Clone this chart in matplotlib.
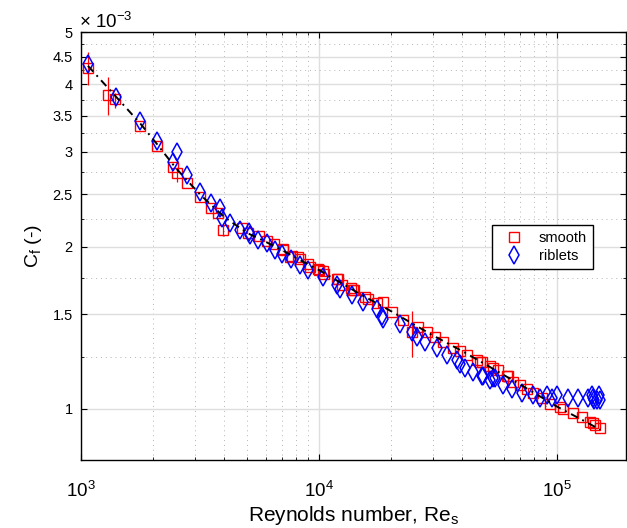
import numpy as np
import matplotlib
matplotlib.use("Agg")
import matplotlib.pyplot as plt
from matplotlib.ticker import FixedLocator, FuncFormatter, LogLocator, NullFormatter

plt.rcParams['font.family'] = ['Liberation Sans', 'DejaVu Sans']
plt.rcParams['mathtext.fontset'] = 'custom'
plt.rcParams['mathtext.rm'] = 'Liberation Sans'
plt.rcParams['mathtext.it'] = 'Liberation Sans:italic'

# smooth wall (Cf in units of 1e-3)
re_smooth = [1070, 1298, 1390, 1770, 2086, 2436, 2532, 2789, 3162, 3517, 3764, 3963,
             4735, 5050, 5610, 6046, 6471, 7032, 7080, 7556, 7675, 8185, 8318, 9016,
             9162, 9930, 10000, 10420, 10500, 11930, 12040, 12440, 13580, 13930, 14030,
             15610, 16100, 17530, 18570, 20180, 22540, 24490, 26120, 28350, 30700, 33260,
             36630, 39110, 41780, 46030, 47450, 48330, 52270, 53950, 56590, 61590, 62370,
             65340, 69950, 74660, 79250, 86490, 93480, 102900, 106000, 116400, 127000,
             137700, 141600, 144500, 151700]
cf_smooth = [4.29, 3.83, 3.76, 3.35, 3.07, 2.81, 2.74, 2.63, 2.47, 2.36, 2.31, 2.15,
             2.17, 2.12, 2.09, 2.05, 2.02, 1.98, 1.97, 1.91, 1.92, 1.91, 1.90, 1.86,
             1.83, 1.82, 1.81, 1.80, 1.78, 1.74, 1.74, 1.70, 1.68, 1.66, 1.66,
             1.61, 1.60, 1.57, 1.58, 1.51, 1.46, 1.39, 1.42, 1.39, 1.36, 1.33,
             1.30, 1.28, 1.26, 1.23, 1.22, 1.22, 1.20, 1.19, 1.18, 1.15, 1.15,
             1.12, 1.11, 1.09, 1.07, 1.05, 1.02, 1.01, 1.00, 0.982, 0.965,
             0.947, 0.941, 0.934, 0.921]

# visible error bars on smooth data
re_err = [1070, 1298, 1390, 2532, 3963, 24490]
cf_err = [4.29, 3.83, 3.76, 2.74, 2.15, 1.39]
cf_err_lo = [3.99, 3.51, 3.62, 2.64, 2.09, 1.25]
cf_err_hi = [4.59, 4.13, 3.86, 2.80, 2.20, 1.52]

# riblets
re_riblets = [1070, 1399, 1770, 2080, 2443, 2524, 2789, 3162, 3517, 3837, 3899, 4227,
              4656, 5094, 5129, 5558, 6046, 6536, 6960, 7650, 8318, 9016, 10420, 11860,
              12250, 13710, 15310, 17530, 18480, 18570, 21880, 24490, 25740, 27880, 31330,
              34400, 37900, 39110, 41050, 44460, 48330, 48980, 52270, 53950, 54850, 59420,
              64530, 71090, 79250, 84850, 90510, 95350, 99700, 111200, 122500, 135400,
              140000, 141600, 143000, 146800, 150000, 151700]
cf_riblets = [4.37, 3.79, 3.42, 3.14, 2.87, 3.00, 2.72, 2.53, 2.41, 2.36, 2.26, 2.21,
              2.15, 2.13, 2.10, 2.06, 2.03, 1.97, 1.94, 1.90, 1.85, 1.81, 1.76, 1.70,
              1.67, 1.63, 1.58, 1.53, 1.49, 1.47, 1.44, 1.39, 1.36, 1.33, 1.30,
              1.26, 1.23, 1.21, 1.19, 1.17, 1.15, 1.15, 1.13, 1.14, 1.14, 1.11,
              1.09, 1.07, 1.06, 1.05, 1.06, 1.05, 1.06, 1.05, 1.05, 1.05,
              1.06, 1.05, 1.04, 1.04, 1.06, 1.04]

# fit line
re_fit = [1070, 1400, 1770, 2086, 2500, 3162, 4000, 5000, 6000, 7000, 8300, 10000,
          15000, 20000, 30000, 40000, 50000, 70000, 100000, 130000, 152000]
cf_fit = [4.33, 3.80, 3.39, 3.10, 2.80, 2.50, 2.27, 2.12, 2.04, 1.97, 1.89, 1.81,
          1.63, 1.52, 1.37, 1.28, 1.21, 1.11, 1.01, 0.95, 0.915]

s = 1e-3
fig = plt.figure(figsize=(6.27, 5.28), dpi=100)
ax = fig.add_axes([81/627, 68/528, 545/627, 428/528])
ax.set_xscale('log')
ax.set_yscale('log')

# grid
yt = [1, 1.5, 2, 2.5, 3, 3.5, 4, 4.5, 5]
ymin = [1.25, 1.75, 2.25, 2.75, 3.25, 3.75, 4.25, 4.75]
ax.yaxis.set_major_locator(FixedLocator([v*s for v in yt]))
ax.yaxis.set_minor_locator(FixedLocator([v*s for v in ymin]))
ax.yaxis.set_major_formatter(FuncFormatter(lambda v, p: '%g' % round(v/s, 2)))
ax.yaxis.set_minor_formatter(NullFormatter())
ax.xaxis.set_major_locator(LogLocator(base=10))
ax.xaxis.set_minor_locator(LogLocator(base=10, subs=np.arange(2, 10)))
ax.xaxis.set_minor_formatter(NullFormatter())

ax.grid(True, which='major', color='#dedede', lw=1.0, ls='-')
ax.grid(True, which='minor', color='#b4b4b4', lw=0.7, ls=(0, (1, 4)))
ax.set_axisbelow(True)

lo = np.array(cf_err) - np.array(cf_err_lo)
hi = np.array(cf_err_hi) - np.array(cf_err)
ax.errorbar(np.array(re_err), np.array(cf_err)*s, yerr=[lo*s, hi*s], fmt='none',
            ecolor='red', elinewidth=0.9, capsize=0)
ax.plot(re_smooth, np.array(cf_smooth)*s, 's', mfc='none', mec='red', ms=7.0,
        mew=1.0, label='smooth')
ax.plot(re_riblets, np.array(cf_riblets)*s, 'd', mfc='none', mec='blue', ms=8.8,
        mew=1.1, label='riblets')
ax.plot(re_fit, np.array(cf_fit)*s, color='black', lw=1.4, ls=(0, (4, 2.5, 1, 2.5)))

ax.set_xlim(1e3, 1.949e5)
ax.set_ylim(0.804e-3, 5.005e-3)

ax.tick_params(which='both', direction='in', top=True, right=True, color='black')
ax.tick_params(which='major', length=4.5, width=0.8)
ax.tick_params(which='minor', length=2.5, width=0.6)
ax.tick_params(axis='x', which='major', labelsize=13.5, pad=15)
ax.tick_params(axis='y', which='major', labelsize=10.5, pad=6)
for sp in ax.spines.values():
    sp.set_linewidth(1.0)

ax.set_xlabel('Reynolds number, Re$_\\mathrm{s}$', fontsize=15, labelpad=2)
ax.set_ylabel('C$_\\mathrm{f}$ (-)', fontsize=14, labelpad=6)
fig.text(79/627, 1 - 28/528, '$\\times$ 10$^{-3}$', fontsize=13.5, va='baseline',
         ha='left')

leg = ax.legend(loc='upper left', bbox_to_anchor=(492/627, 1 - 225/528),
                bbox_transform=fig.transFigure, borderaxespad=0, fancybox=False,
                edgecolor='black', framealpha=1, fontsize=10.5, handlelength=2.2,
                handletextpad=0.6, borderpad=0.4, labelspacing=0.3)
leg.get_frame().set_linewidth(1.0)

fig.savefig('out.png', dpi=100)
